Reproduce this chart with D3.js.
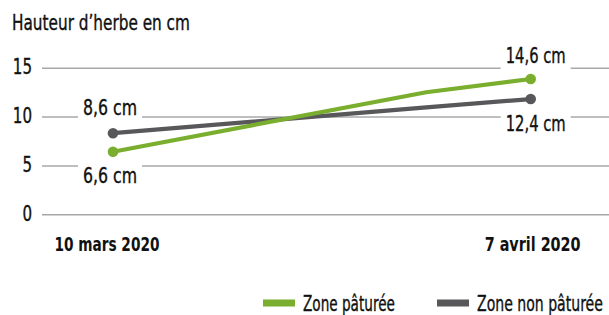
<!DOCTYPE html>
<html>
<head>
<meta charset="utf-8">
<script src="https://cdn.jsdelivr.net/npm/d3@7"></script>
<style>
  html, body { margin: 0; padding: 0; background: #fff; }
  svg text { font-family: "DejaVu Sans Condensed", "Liberation Sans Narrow", "Roboto", sans-serif; fill: #111; }
  svg text.reg { stroke: #111; stroke-width: 0.35px; }
</style>
</head>
<body>
<svg id="chart" width="609" height="315"></svg>
<script>
// ---- data ----
const dates = ["2020-03-10", "2020-03-31", "2020-04-07"];
const xTickDates = ["2020-03-10", "2020-04-07"];
const xTickLabels = ["10 mars 2020", "7 avril 2020"];
const yTicks = [0, 5, 10, 15];
const seriesNames = ["Zone pâturée", "Zone non pâturée"];
const greenValues = [6.45, 12.55, 13.9];
const grayValues = [8.35, 11.0, 11.85];
const greenLabels = ["6,6 cm", "14,6 cm"];
const grayLabels = ["8,6 cm", "12,4 cm"];
const title = "Hauteur d’herbe en cm";

const colors = { green: "#7aae2e", gray: "#58585b", grid: "#a8a8a8" };

const svg = d3.select("#chart");
const parse = d3.timeParse("%Y-%m-%d");

// draw a text condensed horizontally to a target width (reference uses a condensed face)
// anchor: "start" | "middle" | "end"
function ctext(parent, str, px, py, w, opts) {
  opts = opts || {};
  const g = parent.append("g");
  const t = g.append("text").attr("x", 0).attr("y", 0)
    .attr("font-size", opts.size || 21)
    .attr("class", opts.bold ? null : "reg")
    .attr("font-weight", opts.bold ? "bold" : null)
    .text(str);
  const nat = t.node().getComputedTextLength();
  const sx = w / nat;
  const anchor = opts.anchor || "start";
  const left = anchor === "middle" ? px - w / 2 : anchor === "end" ? px - w : px;
  g.attr("transform", `translate(${left},${py}) scale(${sx},1)`);
  return g;
}

const x = d3.scaleTime()
  .domain([parse(dates[0]), parse(dates[dates.length - 1])])
  .range([113, 530.7]);
const y = d3.scaleLinear().domain([0, 15]).range([214.7, 68.3]);

// title
ctext(svg, title, 12, 30, 178);

// gridlines
svg.append("g").selectAll("line").data(yTicks).join("line")
  .attr("x1", 42).attr("x2", 609)
  .attr("y1", d => y(d)).attr("y2", d => y(d))
  .attr("stroke", colors.grid).attr("stroke-width", 1.5);

// y tick labels
const yAxisG = svg.append("g");
yTicks.forEach(v => ctext(yAxisG, String(v), 32, y(v) + 6, String(v).length * 9.6, { anchor: "end" }));

// x tick labels
const xLabelShift = [-6, 2];
const xLabelWidth = [105, 96];
const xAxisG = svg.append("g");
xTickDates.forEach((d, i) =>
  ctext(xAxisG, xTickLabels[i], x(parse(d)) + xLabelShift[i], 251, xLabelWidth[i],
    { anchor: "middle", bold: true, size: 20 }));

// lines
const line = d3.line().x(d => x(d.date)).y(d => y(d.value));
function seriesData(vals) { return vals.map((v, i) => ({ date: parse(dates[i]), value: v })); }
const series = [
  { key: "gray", data: seriesData(grayValues), color: colors.gray },
  { key: "green", data: seriesData(greenValues), color: colors.green }
];
series.forEach(s => {
  svg.append("path").datum(s.data)
    .attr("d", line).attr("fill", "none")
    .attr("stroke", s.color).attr("stroke-width", 4.2)
    .attr("stroke-linejoin", "round");
  const ends = [s.data[0], s.data[s.data.length - 1]];
  svg.append("g").selectAll("circle").data(ends).join("circle")
    .attr("cx", d => x(d.date)).attr("cy", d => y(d.value))
    .attr("r", 5.3).attr("fill", s.color);
});

// value labels with white background
function addLabel(txt, cx, baseline, w) {
  const g = svg.append("g");
  g.append("rect").attr("fill", "#fff")
    .attr("x", cx - w / 2 - 5).attr("y", baseline - 22)
    .attr("width", w + 10).attr("height", 30);
  ctext(g, txt, cx, baseline, w, { anchor: "middle" });
}
const g0 = series[1].data, k0 = series[0].data;
addLabel(greenLabels[0], x(g0[0].date) - 3, y(g0[0].value) + 31.5, 54);
addLabel(greenLabels[1], x(g0[g0.length - 1].date) + 5, y(g0[g0.length - 1].value) - 16, 60);
addLabel(grayLabels[0], x(k0[0].date) - 3, y(k0[0].value) - 18.5, 54);
addLabel(grayLabels[1], x(k0[k0.length - 1].date) + 5, y(k0[k0.length - 1].value) + 32, 60);

// legend
const legendX = [263, 437];
const legendColors = [colors.green, colors.gray];
const legendTextW = [92, 126];
const lg = svg.append("g");
seriesNames.forEach((name, i) => {
  lg.append("rect").attr("x", legendX[i]).attr("y", 299.5).attr("width", 32).attr("height", 7)
    .attr("fill", legendColors[i]);
  ctext(lg, name, legendX[i] + 40, 310.5, legendTextW[i]);
});
</script>
</body>
</html>
